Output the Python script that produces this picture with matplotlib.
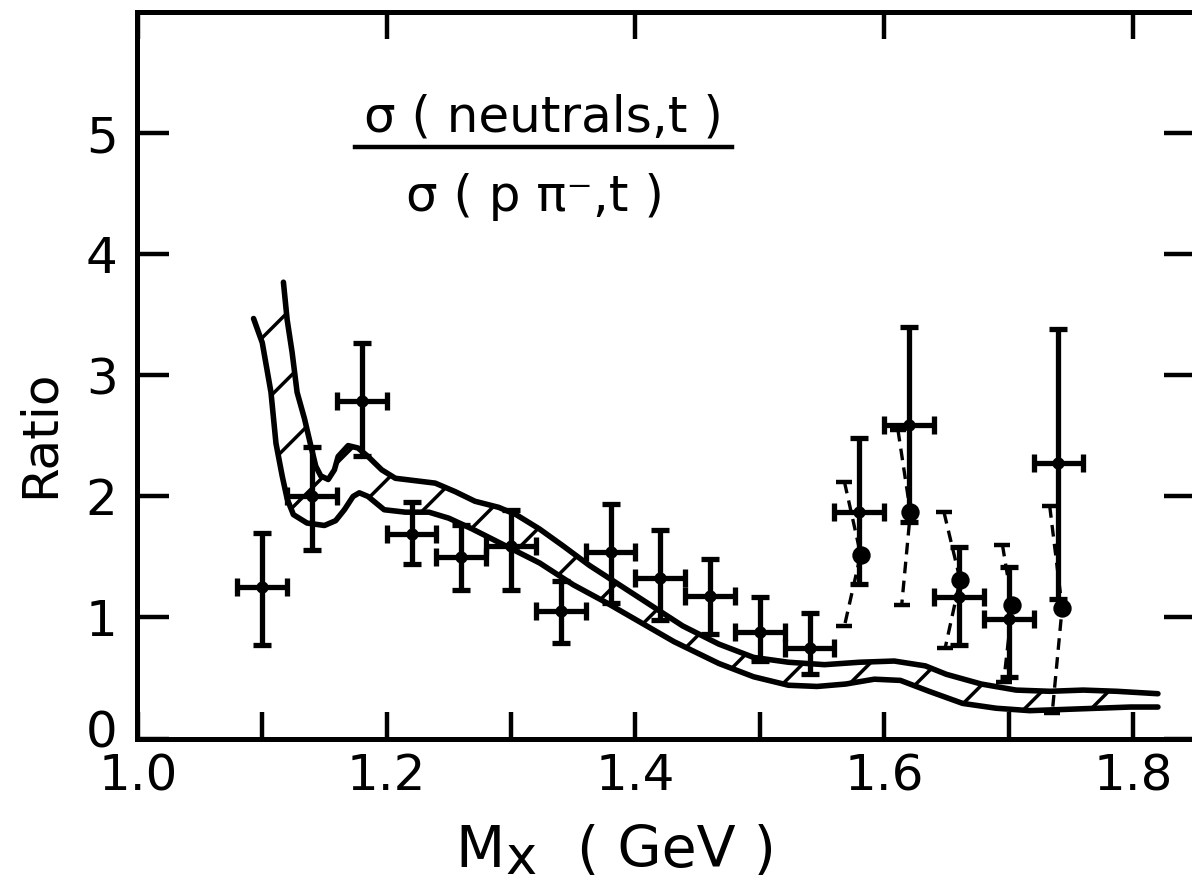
import numpy as np
import matplotlib
matplotlib.use("Agg")
import matplotlib.pyplot as plt
from matplotlib.patches import Polygon
from matplotlib.ticker import FixedLocator, FixedFormatter, NullFormatter
from matplotlib.lines import Line2D
from matplotlib.transforms import ScaledTranslation

# ---------------- data ----------------
# points with horizontal + vertical error bars (solid)
x_cross = [1.10, 1.14, 1.18, 1.22, 1.26, 1.30, 1.34, 1.38, 1.42, 1.46, 1.50, 1.54,
           1.58, 1.62, 1.66, 1.70, 1.74]
y_cross = [1.25, 2.00, 2.79, 1.69, 1.50, 1.59, 1.05, 1.54, 1.33, 1.18, 0.88, 0.75,
           1.87, 2.59, 1.17, 0.99, 2.28]
hi_cross = [1.70, 2.41, 3.27, 1.95, 1.76, 1.89, 1.30, 1.94, 1.72, 1.48, 1.17, 1.04,
            2.48, 3.40, 1.58, 1.42, 3.38]
lo_cross = [0.77, 1.56, 2.33, 1.44, 1.23, 1.23, 0.79, 1.12, 0.98, 0.86, 0.64, 0.53,
            1.28, 1.79, 0.77, 0.51, 1.15]
xerr_cross = 0.02

# large dots with dashed error bars
x_dot = [1.581, 1.621, 1.661, 1.703, 1.743]
y_dot = [1.52, 1.87, 1.31, 1.10, 1.08]
hi_dot = [2.12, 2.55, 1.87, 1.60, 1.92]
lo_dot = [0.93, 1.10, 0.75, 0.47, 0.21]
x_dot_hi = [1.568, 1.611, 1.648, 1.695, 1.733]   # x where the dashed bar ends (top)
x_dot_lo = [1.568, 1.614, 1.649, 1.696, 1.735]   # x where the dashed bar ends (bottom)

# hatched band: upper and lower boundary curves
band_up_x = [1.117, 1.120, 1.124, 1.128, 1.134, 1.139, 1.143, 1.147, 1.153, 1.158,
             1.161, 1.169, 1.177, 1.185, 1.196, 1.207, 1.223, 1.239, 1.255, 1.271,
             1.290, 1.304, 1.323, 1.342, 1.363, 1.390, 1.417, 1.438, 1.467, 1.495,
             1.523, 1.552, 1.580, 1.608, 1.633, 1.650, 1.678, 1.706, 1.733, 1.760,
             1.787, 1.820]
band_up_y = [3.77, 3.46, 3.19, 2.86, 2.64, 2.42, 2.25, 2.17, 2.14, 2.22,
             2.33, 2.42, 2.40, 2.33, 2.22, 2.15, 2.13, 2.11, 2.04, 1.96,
             1.91, 1.85, 1.73, 1.59, 1.43, 1.25, 1.07, 0.93, 0.78, 0.67,
             0.63, 0.61, 0.63, 0.64, 0.60, 0.53, 0.45, 0.40, 0.39, 0.40,
             0.39, 0.37]
band_lo_x = [1.093, 1.100, 1.107, 1.111, 1.116, 1.120, 1.125, 1.136, 1.150, 1.159,
             1.166, 1.173, 1.178, 1.185, 1.198, 1.215, 1.234, 1.250, 1.269, 1.296,
             1.323, 1.350, 1.377, 1.404, 1.431, 1.467, 1.495, 1.523, 1.546, 1.569,
             1.592, 1.613, 1.636, 1.663, 1.690, 1.717, 1.744, 1.771, 1.798, 1.820]
band_lo_y = [3.47, 3.27, 2.86, 2.44, 2.17, 1.98, 1.85, 1.78, 1.76, 1.80,
             1.89, 2.00, 2.03, 2.00, 1.89, 1.87, 1.87, 1.82, 1.73, 1.59,
             1.45, 1.27, 1.12, 0.96, 0.80, 0.62, 0.51, 0.44, 0.43, 0.45,
             0.49, 0.48, 0.39, 0.29, 0.25, 0.23, 0.24, 0.25, 0.26, 0.26]

x_major = [1.0, 1.2, 1.4, 1.6, 1.8]
x_labels = ["1.0", "1.2", "1.4", "1.6", "1.8"]
x_minor = [1.1, 1.3, 1.5, 1.7]
y_major = [0, 1, 2, 3, 4, 5]
y_labels = ["0", "1", "2", "3", "4", "5"]

numerator = "σ ( neutrals,t )"
denominator = "σ ( p π⁻,t )"
y_title = "Ratio"
x_title_main = "M"
x_title_sub = "x"
x_title_unit = "( GeV )"

# ---------------- figure ----------------
plt.rcParams["font.family"] = ["DejaVu Sans"]
plt.rcParams["hatch.linewidth"] = 1.25

DPI = 200
W, H = 1192, 888
fig = plt.figure(figsize=(W / DPI, H / DPI), dpi=DPI)
fig.patch.set_facecolor("white")

ax_l, ax_r, ax_t, ax_b = 137, 1196, 12.3, 738.5
ax = fig.add_axes([ax_l / W, 1 - ax_b / H, (ax_r - ax_l) / W, (ax_b - ax_t) / H])
ax.set_xlim(0.9993, 1.8506)
ax.set_ylim(0, 6.0)

for s in ax.spines.values():
    s.set_linewidth(1.8)

# band
poly_pts = np.concatenate([np.column_stack([band_up_x, band_up_y]),
                           np.column_stack([band_lo_x, band_lo_y])[::-1]])
band = Polygon(poly_pts, closed=True, facecolor="none", edgecolor="black",
               linewidth=0, hatch="/")
ax.add_patch(band)
ax.plot(band_up_x, band_up_y, color="black", lw=2.0, solid_joinstyle="round",
        solid_capstyle="round")
ax.plot(band_lo_x, band_lo_y, color="black", lw=2.0, solid_joinstyle="round",
        solid_capstyle="round")

# solid crosses
yc = np.array(y_cross)
yerr = [yc - np.array(lo_cross), np.array(hi_cross) - yc]
ax.errorbar(x_cross, y_cross, yerr=yerr, xerr=xerr_cross, fmt="o", ms=3.4,
            color="black", elinewidth=1.9, capsize=3.4, capthick=1.9, zorder=4)

# dashed error bars for the big dots
for xt, xd, xb, yt, yd, yb in zip(x_dot_hi, x_dot, x_dot_lo, hi_dot, y_dot, lo_dot):
    ax.plot([xt, xd, xb], [yt, yd, yb], color="black", lw=1.2,
            ls=(0, (3.5, 2.2)), zorder=3)
ax.plot(x_dot_hi, hi_dot, ls="none", marker="_", ms=5.5, mew=1.6, color="black")
ax.plot(x_dot_lo, lo_dot, ls="none", marker="_", ms=5.5, mew=1.6, color="black")
ax.plot(x_dot, y_dot, ls="none", marker="o", ms=5.6, color="black", zorder=5)

# ticks
ax.xaxis.set_major_locator(FixedLocator(x_major))
ax.xaxis.set_major_formatter(FixedFormatter(x_labels))
ax.xaxis.set_minor_locator(FixedLocator(x_minor))
ax.xaxis.set_minor_formatter(NullFormatter())
ax.yaxis.set_major_locator(FixedLocator(y_major))
ax.yaxis.set_major_formatter(FixedFormatter(y_labels))

ax.tick_params(axis="x", which="major", direction="in", top=True, bottom=True,
               length=9.8, width=1.6, labelsize=18, pad=5)
ax.tick_params(axis="x", which="minor", direction="in", top=False, bottom=True,
               length=9.8, width=1.6)
ax.tick_params(axis="y", which="major", direction="in", left=True, right=True,
               length=11.5, width=1.6, labelsize=18, pad=7)

# lift the "0" label a little, as in the original
lab0 = ax.yaxis.get_major_ticks()[0].label1
lab0.set_transform(lab0.get_transform() +
                   ScaledTranslation(0, 10 / DPI, fig.dpi_scale_trans))

# axis titles
fig.text(40 / W, 1 - 434 / H, y_title, rotation=90, ha="center", va="center",
         fontsize=18)
fig.text(455 / W, 1 - 867 / H, x_title_main, ha="left", va="baseline", fontsize=20.5)
fig.text(505 / W, 1 - 874 / H, x_title_sub, ha="left", va="baseline", fontsize=19)
fig.text(577 / W, 1 - 867 / H, x_title_unit, ha="left", va="baseline", fontsize=20.5)

# fraction annotation
fig.text(543 / W, 1 - 117 / H, numerator, ha="center", va="center", fontsize=18)
fig.text(535 / W, 1 - 197 / H, denominator, ha="center", va="center", fontsize=18)
fig.add_artist(Line2D([355 / W, 732 / W], [1 - 147.3 / H, 1 - 147.3 / H],
                      transform=fig.transFigure, color="black", lw=1.6))

fig.savefig("out.png", dpi=DPI)
